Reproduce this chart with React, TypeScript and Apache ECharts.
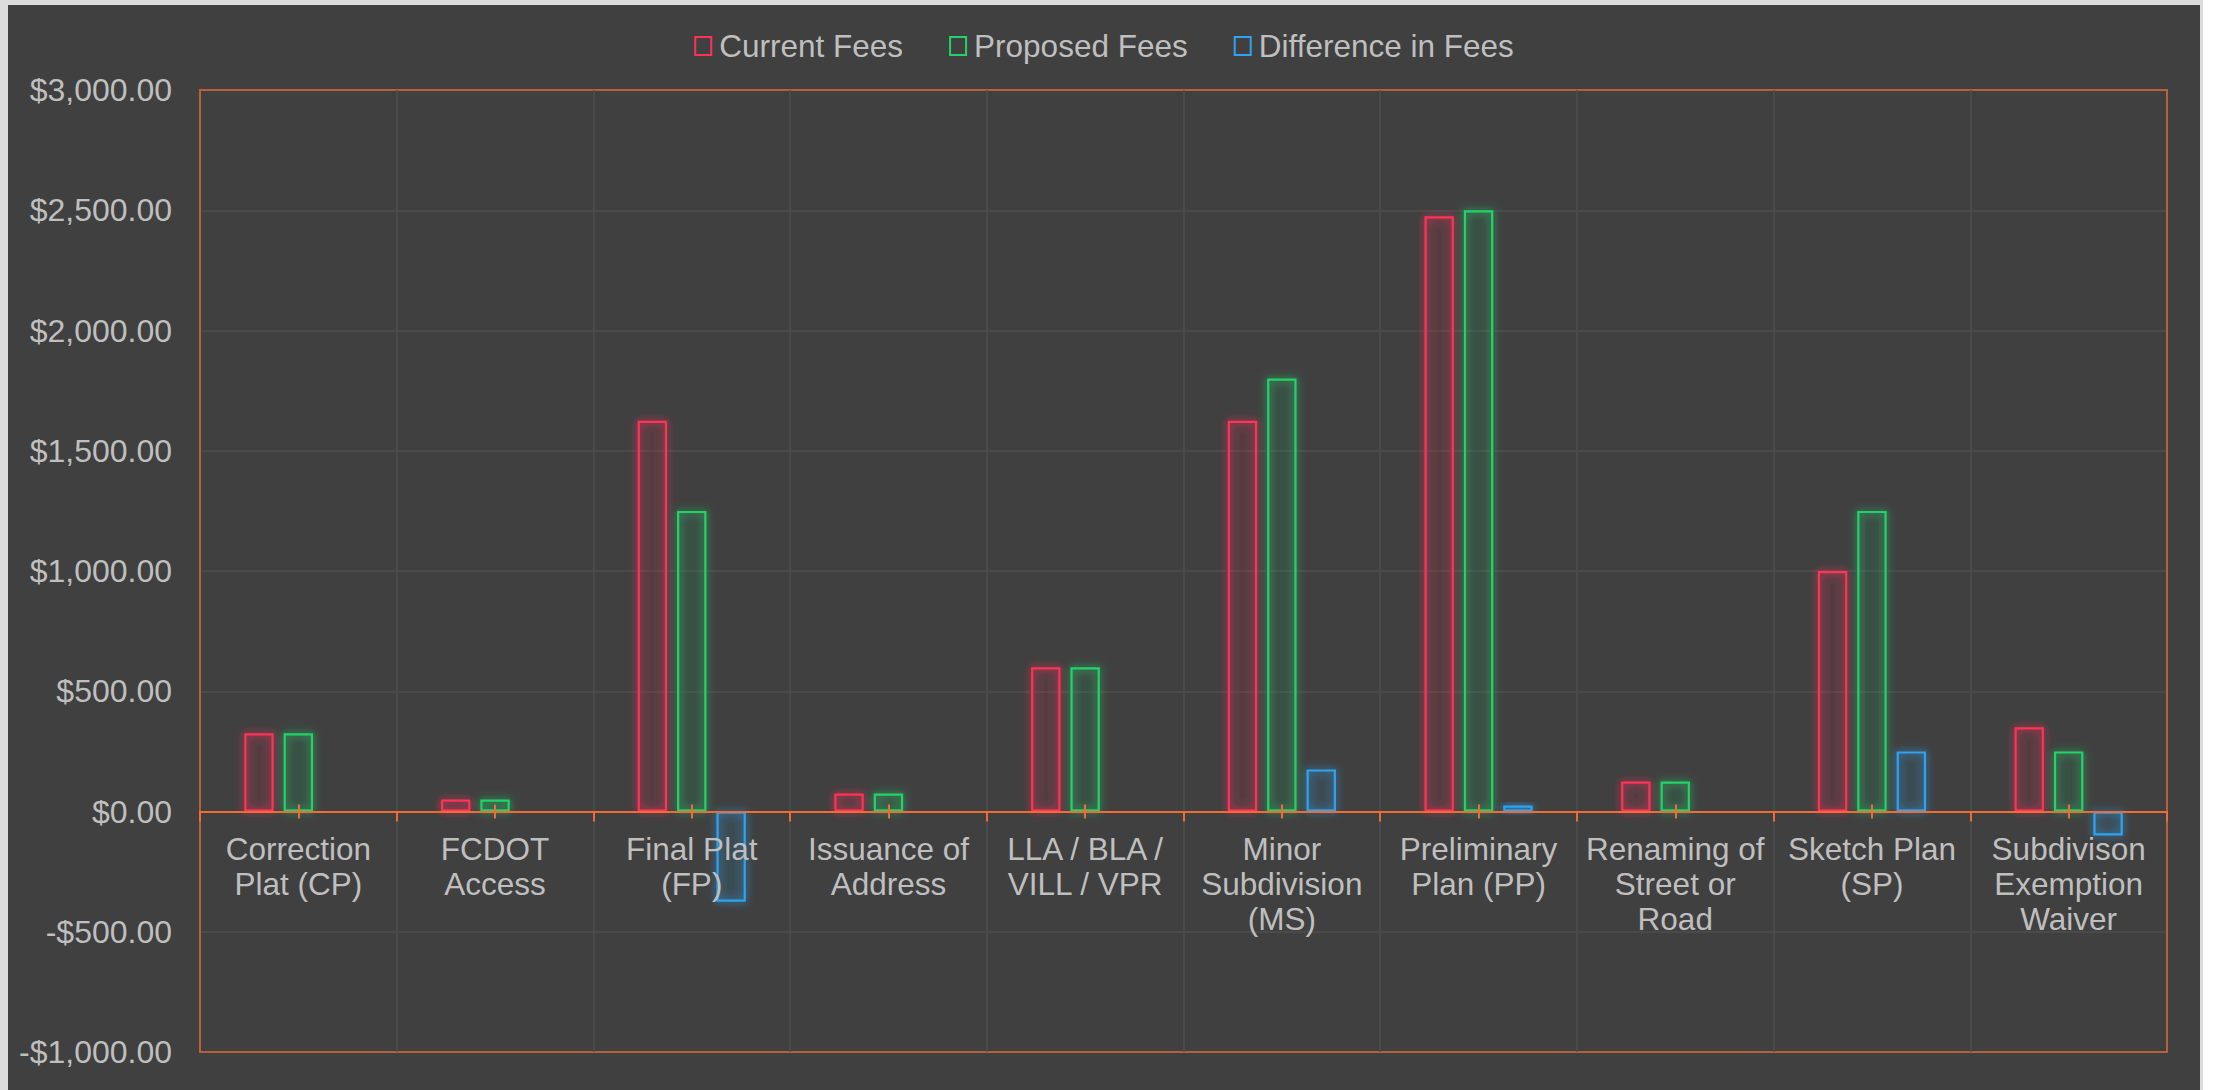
import React, { useEffect, useRef } from "react";
import * as echarts from "echarts";

const categories = [
  "Correction Plat (CP)",
  "FCDOT Access",
  "Final Plat (FP)",
  "Issuance of Address",
  "LLA / BLA / VILL / VPR",
  "Minor Subdivision (MS)",
  "Preliminary Plan (PP)",
  "Renaming of Street or Road",
  "Sketch Plan (SP)",
  "Subdivison Exemption Waiver",
];

const categoryLabels = [
  "Correction\nPlat (CP)",
  "FCDOT\nAccess",
  "Final Plat\n(FP)",
  "Issuance of\nAddress",
  "LLA / BLA /\nVILL / VPR",
  "Minor\nSubdivision\n(MS)",
  "Preliminary\nPlan (PP)",
  "Renaming of\nStreet or\nRoad",
  "Sketch Plan\n(SP)",
  "Subdivison\nExemption\nWaiver",
];

const currentFees = [325, 50, 1625, 75, 600, 1625, 2475, 125, 1000, 350];
const proposedFees = [325, 50, 1250, 75, 600, 1800, 2500, 125, 1250, 250];
const differenceInFees = [0, 0, -375, 0, 0, 175, 25, 0, 250, -100];

const seriesNames = ["Current Fees", "Proposed Fees", "Difference in Fees"];
const yMin = -1000;
const yMax = 3000;
const yStep = 500;

const FONT = "'Liberation Sans', Arial, sans-serif";
const TEXT = "#bfbfbf";

const GRID_TOP = 85;
const GRID_H = 962;

function money(v: number): string {
  const s = Math.abs(v).toLocaleString("en-US", {
    minimumFractionDigits: 2,
    maximumFractionDigits: 2,
  });
  return (v < 0 ? "-$" : "$") + s;
}

export default function App() {
  const ref = useRef<HTMLDivElement>(null);

  useEffect(() => {
    if (!ref.current) return;
    const chart = echarts.init(ref.current, undefined, { renderer: "svg" });

    // distance between zero line and grid bottom, so labels sit under the zero line
    const zeroToBottom = (GRID_H * (0 - yMin)) / (yMax - yMin);

    const mk = (
      name: string,
      data: number[],
      color: string,
      tint: string,
      glow: string
    ) => ({
      type: "bar",
      name,
      data: data.map((v) => (v === 0 ? "-" : v)),
      barGap: "34%",
      barCategoryGap: "45%",
      z: 2,
      itemStyle: {
        color: tint,
        borderColor: color,
        borderWidth: 2.2,
        shadowBlur: 9,
        shadowColor: glow,
      },
      emphasis: { disabled: true },
    });

    const tickAxis = (inside: boolean) => ({
      type: "category",
      data: categories,
      position: "bottom",
      z: 6,
      axisLine: { show: false, onZero: true, onZeroAxisIndex: 0 },
      axisTick: {
        show: true,
        alignWithLabel: true,
        inside,
        length: 7,
        interval: 0,
        lineStyle: { color: "#f26b35", width: 2 },
      },
      axisLabel: { show: false },
      splitLine: { show: false },
    });

    chart.setOption({
      animation: false,
      backgroundColor: "#404040",
      textStyle: { fontFamily: FONT },
      legend: {
        top: 20,
        left: "center",
        itemWidth: 16,
        itemHeight: 18,
        itemGap: 46,
        icon: "rect",
        data: seriesNames,
        itemStyle: { color: "rgba(0,0,0,0)", borderWidth: 2, shadowBlur: 0 },
        textStyle: {
          color: TEXT,
          fontSize: 31.5,
          fontFamily: FONT,
          padding: [0, 0, 0, 3],
        },
      },
      grid: {
        left: 192,
        top: GRID_TOP,
        width: 1967,
        height: GRID_H,
        show: true,
        borderColor: "#b6613c",
        borderWidth: 2,
        containLabel: false,
        outerBoundsMode: "none",
        z: 3,
      },
      xAxis: [
        {
          type: "category",
          data: categories,
          position: "bottom",
          z: 6,
          axisLine: {
            show: true,
            onZero: true,
            onZeroAxisIndex: 0,
            lineStyle: { color: "#f26b35", width: 2 },
          },
          axisTick: {
            show: true,
            alignWithLabel: false,
            interval: 0,
            length: 10,
            lineStyle: { color: "#f26b35", width: 2 },
          },
          axisLabel: {
            interval: 0,
            color: TEXT,
            fontSize: 31.5,
            lineHeight: 35,
            margin: 20 - zeroToBottom,
            fontFamily: FONT,
            formatter: (_v: string, i: number) => categoryLabels[i],
          },
          splitLine: {
            show: true,
            interval: 0,
            showMinLine: false,
            showMaxLine: false,
            lineStyle: { color: "#4e4e4e", width: 1.5 },
          },
        },
        tickAxis(true),
        tickAxis(false),
      ],
      yAxis: {
        type: "value",
        min: yMin,
        max: yMax,
        interval: yStep,
        axisLine: { show: false },
        axisTick: { show: false },
        axisLabel: {
          color: TEXT,
          fontSize: 32,
          margin: 28,
          fontFamily: FONT,
          formatter: (v: number) => money(v),
        },
        splitLine: {
          show: true,
          showMinLine: false,
          showMaxLine: false,
          lineStyle: { color: "#4e4e4e", width: 1.5 },
        },
      },
      series: [
        mk(seriesNames[0], currentFees, "#ff3158", "rgba(255,49,88,0.06)", "rgba(255,49,88,1)"),
        mk(seriesNames[1], proposedFees, "#22d36b", "rgba(34,211,107,0.06)", "rgba(34,211,107,1)"),
        mk(seriesNames[2], differenceInFees, "#2ea3f2", "rgba(46,163,242,0.06)", "rgba(46,163,242,1)"),
      ],
    });

    return () => chart.dispose();
  }, []);

  return (
    <div
      style={{
        position: "fixed",
        left: 0,
        top: 0,
        width: 2213,
        height: 1090,
        background: "#ffffff",
      }}
    >
      <div
        style={{
          position: "absolute",
          left: 0,
          top: 0,
          width: 2203,
          height: 1090,
          background: "#dcdcdc",
        }}
      />
      <div
        ref={ref}
        style={{
          position: "absolute",
          left: 8,
          top: 5,
          width: 2192,
          height: 1085,
        }}
      />
    </div>
  );
}
